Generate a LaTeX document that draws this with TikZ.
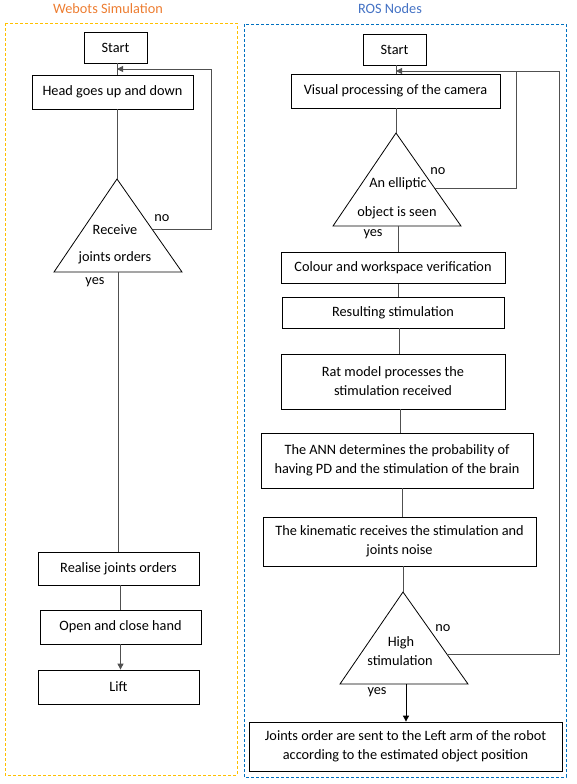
\documentclass[tikz,border=0pt]{standalone}
\usepackage{fontspec}
\setmainfont{Carlito}
\usetikzlibrary{arrows.meta}
\definecolor{lineg}{HTML}{505050}
\definecolor{wframe}{HTML}{FFC000}
\definecolor{rframe}{HTML}{0070C0}
\definecolor{wtitle}{HTML}{ED7D31}
\definecolor{rtitle}{HTML}{4472C4}
\begin{document}
\begin{tikzpicture}[x=1pt,y=-1pt,
  txt/.style={font=\fontsize{14.3}{19}\selectfont, inner sep=0pt},
  box/.style={txt, draw=black, line width=0.8pt, align=center},
  conn/.style={draw=lineg, line width=0.9pt},
  arr/.style={conn, -{Triangle[length=6pt,width=6pt]}},
  tri/.style={draw=black, line width=0.8pt, line join=miter},
  frame/.style={line width=0.8pt, dash pattern=on 3pt off 2pt}]
\useasboundingbox (0,0) rectangle (576,784);
% frames and titles
\draw[frame, draw=wframe] (5,23) rectangle (237,775);
\draw[frame, draw=rframe] (244,24) rectangle (566,777);
\node[txt, text=wtitle] (wt) at (108,9) {Webots Simulation};
\node[txt, text=rtitle] (rt) at (390,9) {ROS Nodes};

% ---------- left column ----------
\node[box, minimum width=63pt, minimum height=31pt] (lstart) at (115.5,47.5) {Start};
\node[box, minimum width=161pt, minimum height=34pt] (lhead) at (112.5,92) {Head goes up and down};
\coordinate (ltop) at (117,179);
\coordinate (lbl) at (54,272);
\coordinate (lbr) at (182,272);
\coordinate (lbase) at (118,272);
\draw[tri] (ltop) -- (lbr) -- (lbl) -- cycle;
\node[txt] (lrec) at (115,230) {Receive};
\node[txt] (ljo) at (115,258) {joints orders};
\node[txt] (lno) at (162,218) {no};
\node[txt] (lyes) at (95,282) {yes};
\node[box, minimum width=161pt, minimum height=33pt] (lreal) at (118.5,568.5) {Realise joints orders};
\node[box, minimum width=161pt, minimum height=34pt] (lopen) at (120.5,627) {Open and close hand};
\node[box, minimum width=161pt, minimum height=34pt] (llift) at (118.5,687) {Lift};
\coordinate (lside) at (153,229);
\coordinate (lfb) at (211,69);
\coordinate (ljoin) at (117,69);

\draw[conn] (lstart.south -| ljoin) -- (lhead.north -| ljoin);
\draw[conn] (lhead.south -| ltop) -- (ltop);
\draw[conn] (lbase) -- (lreal.north -| lbase);
\draw[conn] (lreal.south -| lopen) -- (lopen.north);
\draw[arr] (lopen.south) -- (lopen.south |- llift.north);
\draw[arr] (lside) -| (lfb) -- (ljoin);

% ---------- right column ----------
\node[box, minimum width=63pt, minimum height=31pt] (rstart) at (394.5,49.5) {Start};
\node[box, minimum width=209pt, minimum height=34pt] (rvis) at (395.5,91) {Visual processing of the camera};
\coordinate (etop) at (396,133);
\coordinate (ebl) at (333,226);
\coordinate (ebr) at (461,226);
\coordinate (ebase) at (398,226);
\draw[tri] (etop) -- (ebr) -- (ebl) -- cycle;
\node[txt] (eline1) at (398,184) {An elliptic};
\node[txt] (eline2) at (397,213) {object is seen};
\node[txt] (eno) at (438,171) {no};
\node[txt] (eyes) at (373,234) {yes};
\node[box, minimum width=224pt, minimum height=31pt] (rcol) at (393,268) {Colour and workspace verification};
\node[box, minimum width=222pt, minimum height=31pt] (rres) at (393,312.5) {Resulting stimulation};
\node[box, minimum width=224pt, minimum height=55pt] (rrat) at (393,381.5) {Rat model processes the\\stimulation received};
\node[box, minimum width=272pt, minimum height=55pt] (rann) at (397,460.5) {The ANN determines the probability of\\having PD and the stimulation of the brain};
\node[box, minimum width=273pt, minimum height=49pt] (rkin) at (399.5,541.5) {The kinematic receives the stimulation and\\joints noise};
\coordinate (htop) at (403,592);
\coordinate (hbl) at (340,684);
\coordinate (hbr) at (468,684);
\coordinate (hbase) at (406,684);
\draw[tri] (htop) -- (hbr) -- (hbl) -- cycle;
\node[txt] (hline1) at (401,643) {High};
\node[txt] (hline2) at (400,661) {stimulation};
\node[txt] (hno) at (443,628) {no};
\node[txt] (hyes) at (377,692) {yes};
\node[box, minimum width=313pt, minimum height=49pt] (rfin) at (405.5,746.5) {Joints order are sent to the Left arm of the robot\\according to the estimated object position};

\coordinate (rjoin) at (396,71);
\coordinate (eside) at (435,188);
\coordinate (efb) at (516,71);
\coordinate (hside) at (447,654);
\coordinate (hfb) at (559,71);

\draw[conn] (rstart.south -| rjoin) -- (rvis.north -| rjoin);
\draw[conn] (rvis.south -| etop) -- (etop);
\draw[conn] (ebase) -- (rcol.north -| ebase);
\draw[conn] (rcol.south -| ebase) -- (rres.north -| ebase);
\draw[conn] (rres.south -| 399,0) -- (rrat.north -| 399,0);
\draw[conn] (rrat.south -| 400,0) -- (rann.north -| 400,0);
\draw[conn] (rann.south -| 402,0) -- (rkin.north -| 402,0);
\draw[conn] (rkin.south -| htop) -- (htop);
\draw[arr] (hside) -| (hfb) -- (rjoin);
\draw[conn] (eside) -| (efb);
\draw[arr, draw=black] (hbase) -- (rfin.north -| hbase);
\end{tikzpicture}
\end{document}
